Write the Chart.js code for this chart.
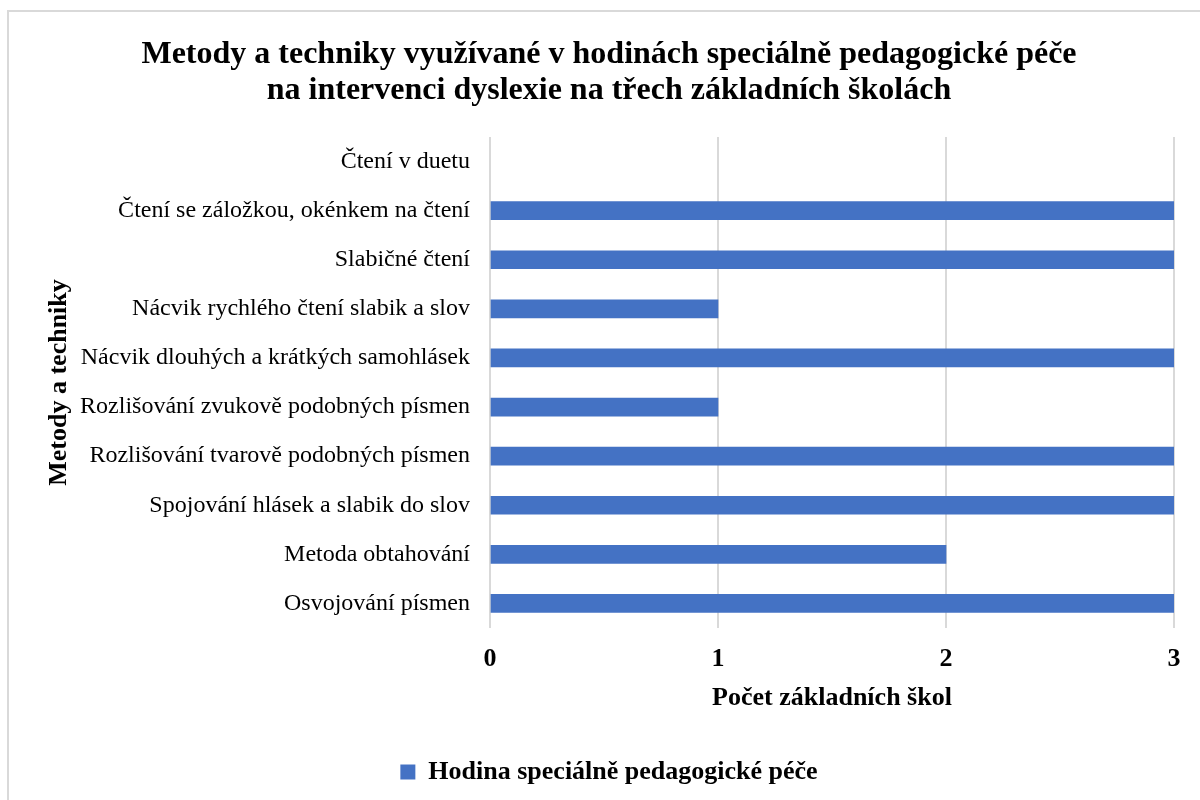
<!DOCTYPE html>
<html>
<head>
<meta charset="utf-8">
<script src="https://cdn.jsdelivr.net/npm/chart.js@4"></script>
<style>
  body { margin: 0; background: #fff; }
  #frame { position: absolute; left: 7px; top: 10px; width: 1200px; height: 800px; border: 2px solid #d9d9d9; box-sizing: border-box; }
  #wrap { position: absolute; left: 0; top: 0; width: 1200px; height: 800px; }
</style>
</head>
<body>
<div id="frame"></div>
<div id="wrap"><canvas id="chart"></canvas></div>
<script>
// categories, top to bottom as in the picture
const methods = [
    'Čtení v duetu',
    'Čtení se záložkou, okénkem na čtení',
    'Slabičné čtení',
    'Nácvik rychlého čtení slabik a slov',
    'Nácvik dlouhých a krátkých samohlásek',
    'Rozlišování zvukově podobných písmen',
    'Rozlišování tvarově podobných písmen',
    'Spojování hlásek a slabik do slov',
    'Metoda obtahování',
    'Osvojování písmen'
];
const schoolCounts = [0, 3, 3, 1, 3, 1, 3, 3, 2, 3];
const seriesName = 'Hodina speciálně pedagogické péče';
const titleLines = [
    'Metody a techniky využívané v hodinách speciálně pedagogické péče',
    'na intervenci dyslexie na třech základních školách'
];

const serif = "'Liberation Serif', 'Times New Roman', serif";
const barBlue = '#4472C4';

new Chart(document.getElementById('chart'), {
    type: 'bar',
    data: {
        labels: methods,
        datasets: [{
            label: seriesName,
            data: schoolCounts,
            // zero-length bars would leave a thin sliver on the axis
            backgroundColor: (ctx) => (ctx.raw === 0 ? 'rgba(0,0,0,0)' : barBlue),
            barThickness: 18
        }]
    },
    options: {
        indexAxis: 'y',
        responsive: true,
        maintainAspectRatio: false,
        animation: false,
        layout: { padding: { left: 44, right: 26, top: 20, bottom: 5 } },
        plugins: {
            title: {
                display: true,
                text: titleLines,
                color: '#000',
                font: { family: serif, size: 32, weight: 'bold', lineHeight: 1.125 },
                padding: { top: 17, bottom: 28 }
            },
            legend: {
                position: 'bottom',
                labels: {
                    color: '#000',
                    font: { family: serif, size: 26, weight: 'bold' },
                    boxWidth: 15,
                    boxHeight: 15,
                    padding: 6,
                    generateLabels: (chart) => [{
                        text: seriesName,
                        fillStyle: barBlue,
                        strokeStyle: barBlue,
                        lineWidth: 0,
                        fontColor: '#000',
                        datasetIndex: 0
                    }]
                }
            },
            tooltip: { enabled: false }
        },
        scales: {
            x: {
                min: 0,
                max: 3,
                ticks: {
                    stepSize: 1,
                    color: '#000',
                    padding: 16,
                    font: { family: serif, size: 26, weight: 'bold' }
                },
                grid: { color: '#d9d9d9', lineWidth: 2, drawTicks: false },
                border: { display: false },
                title: {
                    display: true,
                    text: 'Počet základních škol',
                    color: '#000',
                    font: { family: serif, size: 26, weight: 'bold' },
                    padding: { top: 0, bottom: 39 }
                },
                afterFit: (scale) => { scale.height = 125; }
            },
            y: {
                ticks: {
                    color: '#000',
                    padding: 12,
                    font: { family: serif, size: 24 }
                },
                grid: { display: false },
                border: { display: false },
                title: {
                    display: true,
                    text: 'Metody a techniky',
                    color: '#000',
                    font: { family: serif, size: 26, weight: 'bold' },
                    padding: { top: 0, bottom: 0 }
                },
                afterFit: (scale) => { scale.width = 446; }
            }
        }
    }
});
</script>
</body>
</html>
